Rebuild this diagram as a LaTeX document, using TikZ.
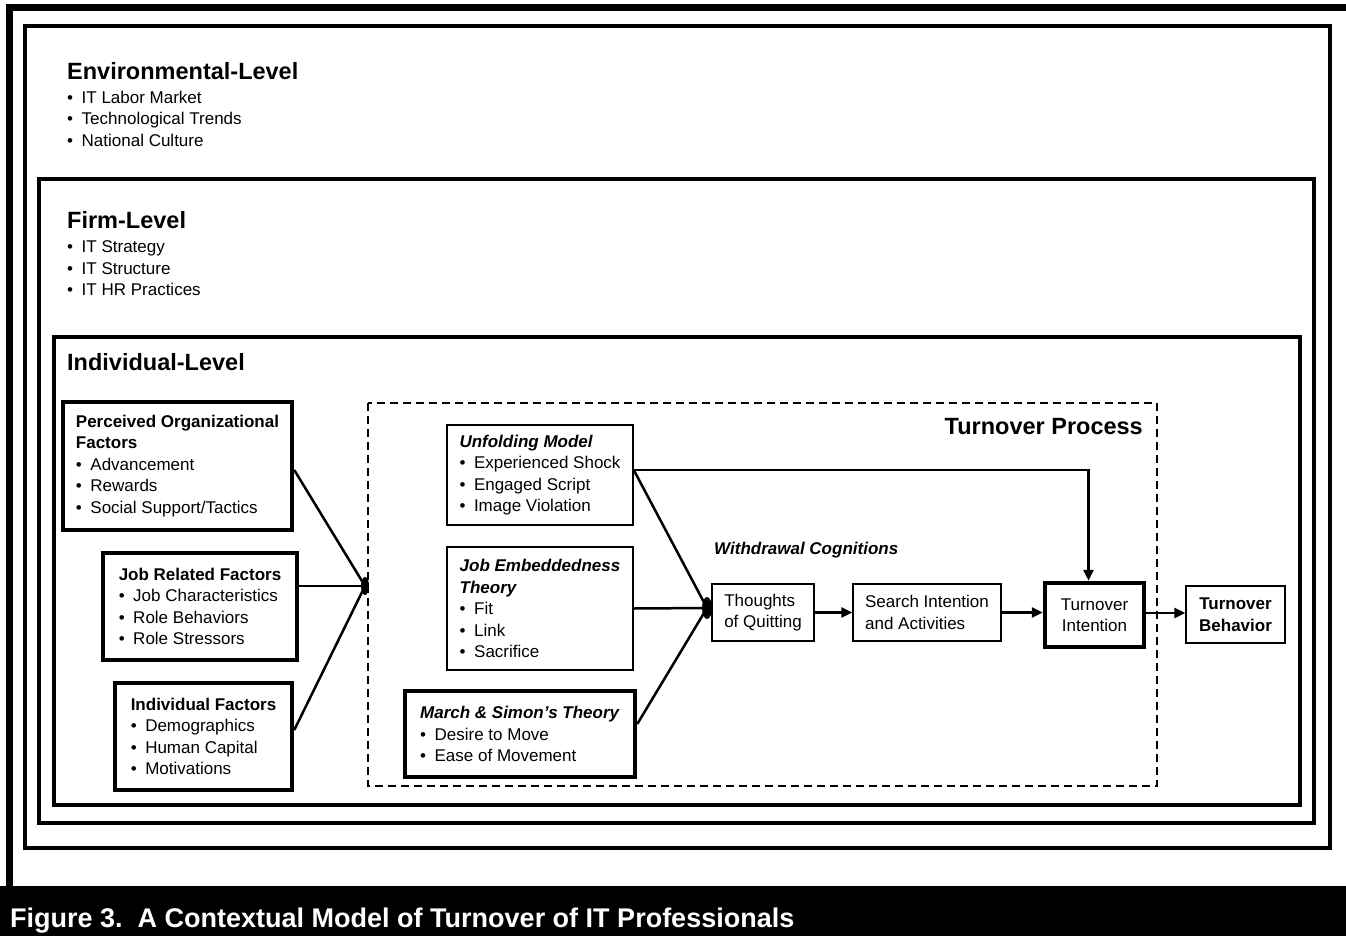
\documentclass[tikz,border=0pt]{standalone}
\usepackage{fontspec}
\setmainfont{Liberation Sans}
\usepackage{tikz}
\usetikzlibrary{calc,arrows.meta}
\definecolor{ink}{HTML}{000000}
\definecolor{paper}{HTML}{FFFFFF}
\newcommand{\bodyfont}{\fontsize{17}{21.5}\selectfont}
\newcommand{\headfont}{\fontsize{23.5}{28}\selectfont\bfseries}
\newcommand{\itm}[1]{\makebox[14.5pt][l]{\textbullet}#1}
\tikzset{
  frame/.style={draw=ink, line width=4pt},
  proc/.style={draw=ink, dash pattern=on 8pt off 5pt, line width=1.8pt},
  thinbox/.style={draw=ink, line width=1.5pt, rectangle, inner sep=0pt, align=left, font=\bodyfont},
  thickbox/.style={thinbox, line width=4.5pt},
  conn/.style={draw=ink, line width=2.5pt},
  arr/.style={conn, -{Triangle[length=11pt,width=10pt]}},
  lvl/.style={font=\headfont, anchor=base west, inner sep=0pt},
  lst/.style={font=\bodyfont, align=left, anchor=west, inner sep=0pt},
  junc/.style={fill=ink}
}

\begin{document}
\begin{tikzpicture}[x=1pt,y=-1pt]
  \useasboundingbox (0,0) rectangle (1346,936);

  % caption bar and outer border
  \fill[ink] (0,886) rectangle (1346,936);
  \draw[ink, line width=7pt] (9,886) -- (9,8) -- (1346,8);
  \node[anchor=base west, inner sep=0pt, text=paper, font=\fontsize{27}{30}\selectfont\bfseries] (cap) at (10,927)
    {Figure 3.~~A Contextual Model of Turnover of IT Professionals};

  % the three levels
  \draw[frame] (25,26) rectangle (1330,848);
  \draw[frame] (39,179) rectangle (1314,823);
  \draw[frame] (54,337) rectangle (1300,805);

  \node[lvl] (envh) at (67,80) {Environmental-Level};
  \node[lst] (envl) at (67,118.5) {\itm{IT Labor Market}\\ \itm{Technological Trends}\\ \itm{National Culture}};
  \node[lvl] (firmh) at (67,229) {Firm-Level};
  \node[lst] (firml) at (67,268.5) {\itm{IT Strategy}\\ \itm{IT Structure}\\ \itm{IT HR Practices}};
  \node[lvl] (indh) at (67,370) {Individual-Level};

  % turnover process
  \draw[proc] (368,403) rectangle (1157,786);
  \node[lvl, anchor=base east] (proch) at (1143,434) {Turnover Process};
  \node[anchor=base west, inner sep=0pt, font=\bodyfont\bfseries\itshape] (wdc) at (714,554) {Withdrawal Cognitions};

  % antecedents
  \node[thickbox, minimum width=229pt, minimum height=128pt] (porg) at (177.5,466)
    {\textbf{Perceived Organizational}\\ \textbf{Factors}\\ \itm{Advancement}\\ \itm{Rewards}\\ \itm{Social Support/Tactics}};
  \node[thickbox, minimum width=194pt, minimum height=107pt] (jrel) at (200,606.5)
    {\textbf{Job Related Factors}\\ \itm{Job Characteristics}\\ \itm{Role Behaviors}\\ \itm{Role Stressors}};
  \node[thickbox, minimum width=177pt, minimum height=107pt] (indf) at (203.5,736.5)
    {\textbf{Individual Factors}\\ \itm{Demographics}\\ \itm{Human Capital}\\ \itm{Motivations}};

  % theories
  \node[thinbox, minimum width=186pt, minimum height=100pt] (unfold) at (540,475)
    {\textbf{\itshape Unfolding Model}\\ \itm{Experienced Shock}\\ \itm{Engaged Script}\\ \itm{Image Violation}};
  \node[thinbox, minimum width=186pt, minimum height=123pt] (embed) at (540,608.5)
    {\textbf{\itshape Job Embeddedness}\\ \textbf{\itshape Theory}\\ \itm{Fit}\\ \itm{Link}\\ \itm{Sacrifice}};
  \node[thickbox, minimum width=230pt, minimum height=86pt] (march) at (520,734)
    {\textbf{\itshape March \& Simon's Theory}\\ \itm{Desire to Move}\\ \itm{Ease of Movement}};

  % withdrawal chain
  \node[thinbox, minimum width=102pt, minimum height=57pt] (think) at (763,612.5) {Thoughts\\ of Quitting};
  \node[thinbox, minimum width=148pt, minimum height=57pt] (search) at (927,612.5) {Search Intention\\ and Activities};
  \node[thickbox, align=center, minimum width=99pt, minimum height=64pt] (tint) at (1094.5,615) {Turnover\\ Intention};
  \node[thinbox, align=center, minimum width=99pt, minimum height=57pt, font=\bodyfont\bfseries] (tbeh) at (1235.5,614.5) {Turnover\\ Behavior};

  % junctions
  \coordinate (J1) at (365,586);
  \coordinate (J2) at (707,608);
  \fill[junc] (J1) ellipse [x radius=4pt, y radius=9pt];
  \fill[junc] (J2) ellipse [x radius=5pt, y radius=11pt];

  \draw[conn] ([yshift=-4pt]porg.east) -- (J1);
  \draw[conn] ([yshift=20.5pt]jrel.east) -- (J1);
  \draw[conn] ([yshift=6.5pt]indf.east) -- (J1);

  \draw[conn] ([yshift=5pt]unfold.east) -- (J2);
  \draw[conn] (embed.east) -- (J2);
  \draw[conn] ([yshift=10pt]march.east) -- (J2);

  \draw[arr] ([yshift=5pt]unfold.east) -| ([xshift=-6pt]tint.north);
  \draw[arr] (think.east) -- (search.west);
  \draw[arr] (search.east) -- (search.east -| tint.west);
  \draw[arr] ([yshift=2pt]tint.east) -- ([yshift=2pt]tint.east -| tbeh.west);
\end{tikzpicture}
\end{document}
